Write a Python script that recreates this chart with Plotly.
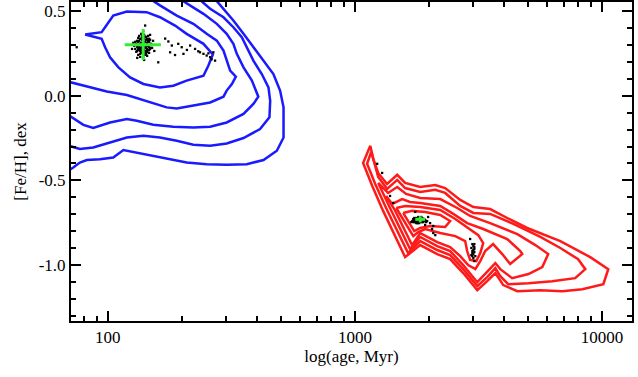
import plotly.graph_objects as go

# contours as (log10 age [Myr], [Fe/H])
BLUE1_LOGAGE = [1.908, 1.975, 1.989, 2.022, 2.077, 2.157, 2.211, 2.272, 2.319, 2.387, 2.425, 2.407, 2.387, 2.319, 2.265, 2.211, 2.144, 2.090, 2.043, 2.009, 1.989, 1.975, 1.908]
BLUE1_FEH = [0.361, 0.375, 0.404, 0.473, 0.497, 0.493, 0.463, 0.414, 0.365, 0.306, 0.243, 0.178, 0.118, 0.089, 0.059, 0.049, 0.069, 0.108, 0.167, 0.227, 0.286, 0.336, 0.361]

BLUE2_LOGAGE = [2.160, 2.211, 2.279, 2.346, 2.400, 2.441, 2.468, 2.481, 2.495, 2.518, 2.502, 2.481, 2.468, 2.414, 2.346, 2.279, 2.238, 2.157, 2.077, 1.996, 1.941, 1.854, 1.834]
BLUE2_FEH = [0.582, 0.533, 0.473, 0.424, 0.365, 0.325, 0.266, 0.207, 0.148, 0.112, 0.069, 0.030, -0.006, -0.040, -0.059, -0.075, -0.069, -0.030, 0.004, 0.025, 0.046, 0.079, 0.085]

BLUE3_LOGAGE = [2.279, 2.333, 2.387, 2.441, 2.481, 2.508, 2.522, 2.549, 2.583, 2.609, 2.589, 2.549, 2.481, 2.414, 2.346, 2.265, 2.184, 2.117, 2.077, 2.009, 1.941, 1.901, 1.854, 1.834]
BLUE3_FEH = [0.582, 0.533, 0.483, 0.424, 0.365, 0.306, 0.247, 0.167, 0.089, -0.006, -0.049, -0.108, -0.158, -0.183, -0.188, -0.183, -0.172, -0.148, -0.138, -0.158, -0.191, -0.172, -0.128, -0.108]

BLUE4_LOGAGE = [2.360, 2.414, 2.468, 2.508, 2.542, 2.562, 2.589, 2.623, 2.650, 2.657, 2.654, 2.616, 2.549, 2.481, 2.414, 2.346, 2.279, 2.211, 2.144, 2.077, 2.009, 1.941, 1.887, 1.854, 1.834]
BLUE4_FEH = [0.582, 0.513, 0.463, 0.404, 0.345, 0.286, 0.207, 0.128, 0.049, -0.030, -0.128, -0.197, -0.250, -0.282, -0.296, -0.290, -0.266, -0.247, -0.237, -0.247, -0.276, -0.306, -0.315, -0.302, -0.292]

BLUE5_LOGAGE = [2.427, 2.468, 2.508, 2.549, 2.589, 2.630, 2.670, 2.697, 2.711, 2.711, 2.684, 2.630, 2.562, 2.481, 2.400, 2.319, 2.252, 2.184, 2.117, 2.063, 2.022, 1.968, 1.915, 1.887, 1.860, 1.840]
BLUE5_FEH = [0.582, 0.513, 0.444, 0.365, 0.286, 0.207, 0.128, 0.030, -0.069, -0.247, -0.325, -0.380, -0.404, -0.408, -0.404, -0.395, -0.375, -0.355, -0.336, -0.321, -0.365, -0.375, -0.380, -0.395, -0.424, -0.444]

RED1_LOGAGE = [3.062, 3.074, 3.094, 3.130, 3.171, 3.203, 3.264, 3.325, 3.365, 3.426, 3.479, 3.547, 3.616, 3.697, 3.831, 3.952, 4.025, 4.005, 3.920, 3.839, 3.750, 3.657, 3.600, 3.568, 3.535, 3.495, 3.438, 3.385, 3.333, 3.264, 3.203, 3.163, 3.114, 3.070, 3.033, 3.062]
RED1_FEH = [-0.296, -0.373, -0.456, -0.521, -0.467, -0.515, -0.539, -0.527, -0.545, -0.615, -0.657, -0.669, -0.722, -0.781, -0.858, -0.953, -1.024, -1.113, -1.142, -1.154, -1.148, -1.154, -1.118, -1.047, -1.095, -1.148, -1.047, -0.965, -0.935, -0.882, -0.953, -0.829, -0.680, -0.533, -0.397, -0.296]

RED2_LOGAGE = [3.066, 3.078, 3.094, 3.130, 3.171, 3.203, 3.264, 3.325, 3.365, 3.426, 3.479, 3.547, 3.641, 3.750, 3.831, 3.903, 3.932, 3.891, 3.798, 3.702, 3.620, 3.588, 3.568, 3.535, 3.495, 3.438, 3.385, 3.333, 3.264, 3.215, 3.175, 3.126, 3.082, 3.049, 3.066]
RED2_FEH = [-0.331, -0.402, -0.479, -0.550, -0.497, -0.545, -0.568, -0.556, -0.574, -0.651, -0.692, -0.698, -0.757, -0.834, -0.899, -0.965, -1.024, -1.077, -1.095, -1.107, -1.113, -1.065, -1.018, -1.071, -1.124, -1.024, -0.941, -0.911, -0.858, -0.929, -0.811, -0.663, -0.521, -0.402, -0.331]

RED3_LOGAGE = [3.094, 3.134, 3.171, 3.207, 3.264, 3.345, 3.414, 3.466, 3.547, 3.657, 3.730, 3.782, 3.758, 3.702, 3.636, 3.588, 3.568, 3.535, 3.495, 3.438, 3.385, 3.333, 3.264, 3.223, 3.187, 3.138, 3.094]
RED3_FEH = [-0.515, -0.574, -0.539, -0.580, -0.604, -0.610, -0.663, -0.710, -0.752, -0.817, -0.882, -0.935, -1.012, -1.053, -1.077, -1.024, -0.988, -1.041, -1.101, -1.000, -0.917, -0.888, -0.834, -0.905, -0.799, -0.651, -0.515]

RED4_LOGAGE = [3.126, 3.151, 3.191, 3.223, 3.264, 3.345, 3.398, 3.454, 3.519, 3.616, 3.669, 3.677, 3.628, 3.596, 3.559, 3.527, 3.507, 3.487, 3.458, 3.426, 3.385, 3.333, 3.264, 3.231, 3.199, 3.159, 3.126]
RED4_FEH = [-0.592, -0.639, -0.610, -0.627, -0.633, -0.651, -0.698, -0.752, -0.787, -0.846, -0.917, -0.935, -0.994, -0.935, -0.876, -0.917, -0.976, -1.024, -1.000, -0.947, -0.894, -0.864, -0.811, -0.882, -0.787, -0.669, -0.592]

RED5_LOGAGE = [3.167, 3.203, 3.264, 3.345, 3.406, 3.458, 3.499, 3.519, 3.507, 3.491, 3.466, 3.454, 3.446, 3.406, 3.345, 3.284, 3.256, 3.236, 3.203, 3.167]
RED5_FEH = [-0.663, -0.651, -0.657, -0.675, -0.728, -0.781, -0.823, -0.870, -0.929, -0.976, -0.970, -0.917, -0.858, -0.829, -0.811, -0.787, -0.805, -0.829, -0.752, -0.663]

RED6_LOGAGE = [3.195, 3.231, 3.284, 3.345, 3.385, 3.365, 3.304, 3.264, 3.240, 3.215, 3.195]
RED6_FEH = [-0.692, -0.680, -0.686, -0.704, -0.740, -0.775, -0.769, -0.781, -0.799, -0.740, -0.692]

# individual model points (black dots)
DOTS_LOGAGE = [
    2.111, 2.119, 2.123, 2.127, 2.131, 2.135, 2.139, 2.143, 2.147, 2.151, 2.155, 2.159, 2.163, 2.167, 2.171, 2.175,
    2.115, 2.123, 2.135, 2.143, 2.151, 2.155, 2.163, 2.167, 2.107, 2.179, 2.127, 2.159, 2.139, 2.147, 2.119, 2.167,
    2.131, 2.155, 2.143, 2.139, 2.151, 2.135, 2.147, 2.131, 2.183, 2.103, 2.143, 2.147, 2.119, 2.171, 2.188, 2.098,
    2.159, 2.127,
    2.123, 2.127, 2.131, 2.135, 2.139, 2.143, 2.147, 2.151, 2.155, 2.159, 2.163, 2.123, 2.135, 2.139, 2.143, 2.147,
    2.151, 2.155, 2.131, 2.119, 2.167, 2.163, 2.127, 2.143, 2.139, 2.151, 2.115, 2.171, 2.135, 2.159, 2.131, 2.147,
    2.155, 2.123, 2.167, 2.111, 2.175, 2.143, 2.139, 2.147,
    2.232, 2.259, 2.252, 2.285, 2.299, 2.306, 2.333, 2.353, 2.373, 2.387, 2.400, 2.414, 2.434, 2.427, 2.204, 2.151,
    2.245, 2.272, 2.320, 2.366, 2.407, 2.420, 1.874,
    3.232, 3.236, 3.240, 3.244, 3.248, 3.252, 3.256, 3.260, 3.264, 3.268, 3.272, 3.276, 3.280, 3.284, 3.288, 3.240,
    3.256, 3.268, 3.260, 3.276, 3.248, 3.264, 3.252, 3.272, 3.236, 3.292, 3.228,
    3.244, 3.252, 3.260, 3.268, 3.236, 3.280, 3.256, 3.272, 3.264, 3.248,
    3.304, 3.317, 3.312, 3.317, 3.325, 3.296, 3.244, 3.090, 3.110, 3.142, 3.155, 3.284,
    3.475, 3.479, 3.471, 3.483, 3.475, 3.483, 3.479, 3.471, 3.487, 3.479, 3.475, 3.483, 3.466, 3.483,
    3.479, 3.475, 3.483,
]
DOTS_FEH = [
    0.318, 0.288, 0.341, 0.270, 0.306, 0.253, 0.330, 0.300, 0.282, 0.347, 0.264, 0.312, 0.294, 0.336, 0.276, 0.306,
    0.259, 0.241, 0.365, 0.229, 0.318, 0.247, 0.353, 0.253, 0.294, 0.282, 0.353, 0.235, 0.264, 0.336, 0.324, 0.318,
    0.282, 0.330, 0.312, 0.294, 0.288, 0.312, 0.270, 0.229, 0.324, 0.312, 0.383, 0.211, 0.223, 0.359, 0.264, 0.276,
    0.276, 0.300,
    0.300, 0.324, 0.264, 0.282, 0.347, 0.276, 0.318, 0.259, 0.294, 0.336, 0.270, 0.276, 0.270, 0.312, 0.259, 0.359,
    0.300, 0.282, 0.336, 0.264, 0.288, 0.324, 0.288, 0.247, 0.359, 0.241, 0.306, 0.330, 0.336, 0.259, 0.247, 0.253,
    0.347, 0.318, 0.270, 0.276, 0.282, 0.330, 0.282, 0.294,
    0.337, 0.296, 0.256, 0.306, 0.286, 0.247, 0.296, 0.276, 0.256, 0.247, 0.237, 0.227, 0.207, 0.256, 0.197, 0.414,
    0.320, 0.240, 0.270, 0.262, 0.250, 0.215, 0.286,
    -0.740, -0.728, -0.746, -0.734, -0.722, -0.740, -0.752, -0.734, -0.722, -0.746, -0.734, -0.728, -0.740, -0.734, -0.746, -0.722,
    -0.716, -0.716, -0.752, -0.746, -0.752, -0.740, -0.728, -0.722, -0.746, -0.740, -0.746,
    -0.746, -0.752, -0.722, -0.734, -0.734, -0.728, -0.740, -0.746, -0.728, -0.734,
    -0.752, -0.769, -0.787, -0.811, -0.823, -0.716, -0.686, -0.402, -0.456, -0.592, -0.633, -0.763,
    -0.876, -0.888, -0.899, -0.905, -0.917, -0.923, -0.935, -0.941, -0.947, -0.959, -0.929, -0.894, -0.846, -0.976,
    -0.911, -0.947, -0.876,
]

# mean values with spreads (green crosses)
MEAN_AGE = [139, 1837]
MEAN_AGE_PLUS = [25, 86]
MEAN_AGE_MINUS = [22, 83]
MEAN_FEH = [0.30, -0.73]
MEAN_FEH_ERR = [0.09, 0.018]

X_TICKS = [100, 1000, 10000]
X_MINOR = [80, 90, 200, 300, 400, 500, 600, 700, 800, 900,
           2000, 3000, 4000, 5000, 6000, 7000, 8000, 9000, 20000]
X_RANGE = [1.851, 4.121]
Y_RANGE = [-1.33, 0.553]
Y_TICKS = [-1.0, -0.5, 0.0, 0.5]

fig = go.Figure()

blue = [(BLUE1_LOGAGE, BLUE1_FEH), (BLUE2_LOGAGE, BLUE2_FEH), (BLUE3_LOGAGE, BLUE3_FEH),
        (BLUE4_LOGAGE, BLUE4_FEH), (BLUE5_LOGAGE, BLUE5_FEH)]
red = [(RED1_LOGAGE, RED1_FEH), (RED2_LOGAGE, RED2_FEH), (RED3_LOGAGE, RED3_FEH),
       (RED4_LOGAGE, RED4_FEH), (RED5_LOGAGE, RED5_FEH), (RED6_LOGAGE, RED6_FEH)]

for la, fe in blue:
    fig.add_trace(go.Scatter(x=[10 ** v for v in la], y=fe, mode='lines',
                             line=dict(color='#1a1aff', width=2.5), hoverinfo='skip'))
for la, fe in red:
    fig.add_trace(go.Scatter(x=[10 ** v for v in la], y=fe, mode='lines',
                             line=dict(color='#ff1a1a', width=2.5), hoverinfo='skip'))

fig.add_trace(go.Scatter(x=[10 ** v for v in DOTS_LOGAGE], y=DOTS_FEH, mode='markers',
                         marker=dict(color='black', size=2.3, symbol='square')))

fig.add_trace(go.Scatter(
    x=MEAN_AGE, y=MEAN_FEH, mode='markers',
    marker=dict(color='#33ee33', size=1),
    error_x=dict(type='data', array=MEAN_AGE_PLUS, arrayminus=MEAN_AGE_MINUS,
                 color='#33ee33', thickness=3, width=0),
    error_y=dict(type='data', array=MEAN_FEH_ERR, color='#33ee33', thickness=3, width=0),
))

# invisible trace so the mirrored top/right tick axes get drawn
fig.add_trace(go.Scatter(x=[1000], y=[0], xaxis='x2', yaxis='y2', mode='markers',
                         marker=dict(opacity=0), hoverinfo='skip'))

font = dict(family='Liberation Serif', size=17, color='black')

tick_common = dict(ticks='inside', ticklen=10, tickwidth=2, tickcolor='black',
                   showgrid=False, zeroline=False, automargin=False)

fig.update_layout(
    width=638, height=377,
    margin=dict(l=71, r=6, t=2, b=56, autoexpand=False),
    paper_bgcolor='white', plot_bgcolor='white',
    showlegend=False,
    font=font,
    xaxis=dict(
        type='log', range=X_RANGE,
        tickmode='array', tickvals=X_TICKS, ticktext=[str(v) for v in X_TICKS],
        minor=dict(tickmode='array', tickvals=X_MINOR, ticks='inside', ticklen=5,
                   tickwidth=2, tickcolor='black', showgrid=False),
        showline=True, linewidth=2, linecolor='black', mirror=True,
        tickfont=font,
        title=dict(text='log(age, Myr)', standoff=4, font=font),
        **tick_common,
    ),
    xaxis2=dict(
        type='log', range=X_RANGE, overlaying='x', side='top',
        tickmode='array', tickvals=X_TICKS, showticklabels=False,
        minor=dict(tickmode='array', tickvals=X_MINOR, ticks='inside', ticklen=5,
                   tickwidth=2, tickcolor='black', showgrid=False),
        showline=False,
        **tick_common,
    ),
    yaxis=dict(
        range=Y_RANGE,
        tickmode='array', tickvals=Y_TICKS, ticktext=['-1.0', '-0.5', '0.0', '0.5'],
        minor=dict(dtick=0.1, tick0=0, ticks='inside', ticklen=5,
                   tickwidth=2, tickcolor='black', showgrid=False),
        showline=True, linewidth=2, linecolor='black', mirror=True,
        tickfont=font,
        title=dict(text='[Fe/H], dex', standoff=8, font=font),
        **tick_common,
    ),
    yaxis2=dict(
        range=Y_RANGE, overlaying='y', side='right',
        tickmode='array', tickvals=Y_TICKS, showticklabels=False,
        minor=dict(dtick=0.1, tick0=0, ticks='inside', ticklen=5,
                   tickwidth=2, tickcolor='black', showgrid=False),
        showline=False,
        **tick_common,
    ),
)

# the page body has a default 8px margin; drop it so the figure sits at the window corner
fig.write_html("out.html", config={'displayModeBar': False},
               post_script="document.body.style.margin='0';")
